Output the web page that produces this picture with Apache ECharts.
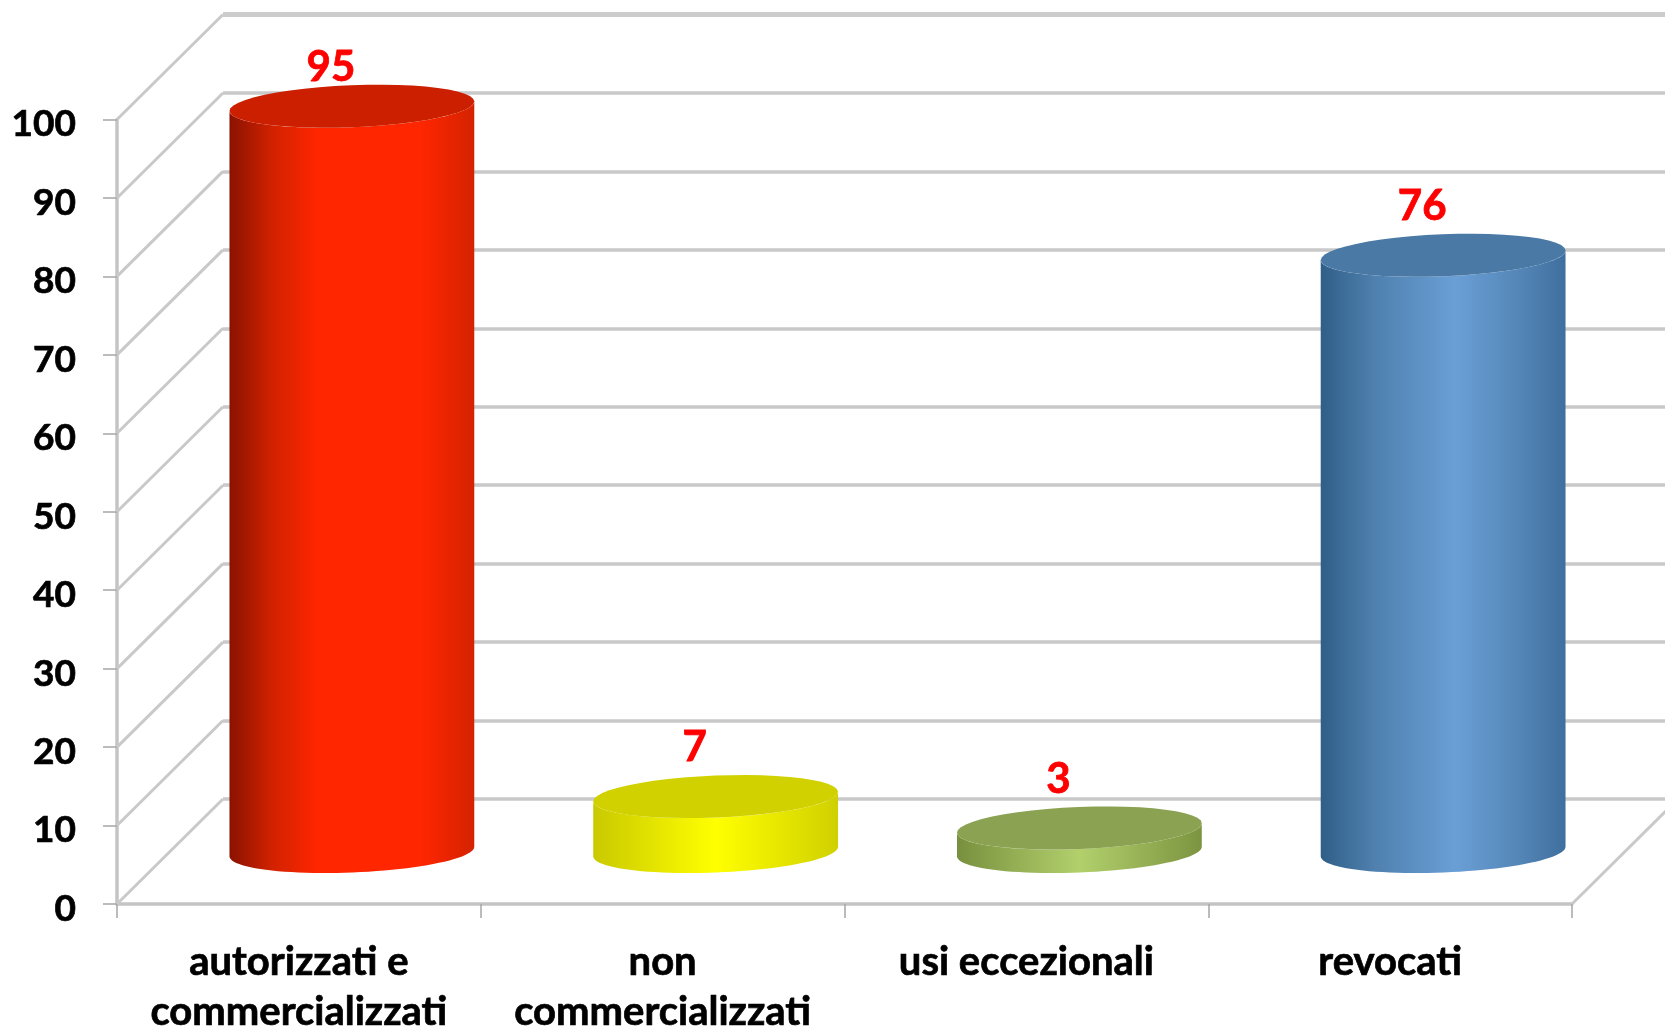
<!DOCTYPE html>
<html lang="it">

<head>
    <meta charset="UTF-8">
    <title>Farmaci</title>
    <script src="https://cdn.jsdelivr.net/npm/echarts@6/dist/echarts.min.js"></script>
    <style>
        html, body { margin: 0; background: #fff; }
        #chart { width: 1665px; height: 1029px; }
    </style>
</head>

<body>
    <div id="chart"></div>
    <script>
        const categories = ['autorizzati e\ncommercializzati', 'non\ncommercializzati', 'usi eccezionali', 'revocati']
        const values = [95, 7, 3, 76]
        const yTicks = [0, 10, 20, 30, 40, 50, 60, 70, 80, 90, 100]

        // side gradient stops and top colour for each cylinder
        const palette = [
            { side: [[0, '#8a1200'], [0.18, '#d32200'], [0.36, '#ff2600'], [0.78, '#ff2600'], [1, '#d42300']], top: '#cc1f00' },
            { side: [[0, '#c9c900'], [0.5, '#ffff00'], [1, '#d0d000']], top: '#d1d100' },
            { side: [[0, '#78903e'], [0.5, '#b2d06c'], [1, '#7c9440']], top: '#8aa252' },
            { side: [[0, '#2f5f88'], [0.22, '#4f80ae'], [0.55, '#6a9fd6'], [0.8, '#5587b8'], [1, '#3f6f9e']], top: '#4a79a6' }
        ]

        // 3D look: depth of the floor, in pixels
        const depthX = 106
        const depthY = 105
        const lineColor = '#c9c9c9'
        const rx = 122.5
        const ry = 21
        const tilt = -0.04

        function ellipsePoint(cx, cy, t) {
            const x = rx * Math.cos(t)
            const y = ry * Math.sin(t)
            return [cx + x * Math.cos(tilt) - y * Math.sin(tilt), cy + x * Math.sin(tilt) + y * Math.cos(tilt)]
        }

        function ellipseArc(cx, cy, from, to) {
            const pts = []
            for (let i = 0; i <= 48; i++) {
                pts.push(ellipsePoint(cx, cy, from + (to - from) * i / 48))
            }
            return pts
        }

        // diagonals on the left wall and floor, top line of the back wall
        function renderWall(params, api) {
            const p = api.coord([0, api.value(0)])
            const x0 = p[0] - api.size([1, 0])[0] / 2
            const children = [{
                type: 'line',
                shape: { x1: x0, y1: p[1], x2: x0 + depthX, y2: p[1] - depthY },
                style: { stroke: lineColor, lineWidth: 3 }
            }]
            if (api.value(0) === 100) {
                children.push({
                    type: 'line',
                    shape: { x1: x0 + depthX, y1: p[1] - depthY, x2: 1665, y2: p[1] - depthY },
                    style: { stroke: '#cccccc', lineWidth: 5 }
                })
            }
            if (api.value(0) === 0) {
                const right = api.coord([3, 0])[0] + api.size([1, 0])[0] / 2
                children.push({
                    type: 'line',
                    shape: { x1: right, y1: p[1], x2: right + depthX, y2: p[1] - depthY },
                    style: { stroke: lineColor, lineWidth: 3 }
                })
            }
            return { type: 'group', children: children }
        }

        function renderCylinder(params, api) {
            const i = params.dataIndex
            const top = api.coord([api.value(0), api.value(1)])
            const base = api.coord([api.value(0), 0])
            const cx = top[0] + depthX / 2
            const cyTop = top[1] - depthY / 2
            const cyBase = base[1] - depthY / 2
            const colors = palette[i]
            const side = ellipseArc(cx, cyBase, 0, Math.PI).concat(ellipseArc(cx, cyTop, Math.PI, 0))
            return {
                type: 'group',
                children: [{
                    type: 'polygon',
                    shape: { points: side },
                    style: {
                        fill: new echarts.graphic.LinearGradient(0, 0, 1, 0, colors.side.map(function (s) {
                            return { offset: s[0], color: s[1] }
                        }))
                    }
                }, {
                    type: 'polygon',
                    shape: { points: ellipseArc(cx, cyTop, 0, Math.PI * 2) },
                    style: { fill: colors.top }
                }, {
                    type: 'text',
                    x: cx - 21,
                    y: Math.max(cyTop - 49, 67),
                    style: {
                        text: String(api.value(1)),
                        fill: '#ff0000',
                        font: 'bold 42px Lato',
                        textAlign: 'center',
                        textVerticalAlign: 'middle',
                        stroke: '#ff0000',
                        lineWidth: 0.8
                    }
                }]
            }
        }

        const chart = echarts.init(document.getElementById('chart'))
        chart.setOption({
            animation: false,
            grid: [
                { left: 117, right: 93, top: 119.5, bottom: 125, outerBoundsMode: 'none' },
                { left: 223, right: -13, top: 14.5, bottom: 230, outerBoundsMode: 'none' }
            ],
            xAxis: [{
                type: 'category',
                gridIndex: 0,
                data: categories,
                axisLine: { lineStyle: { color: '#c4c4c4', width: 3.5 } },
                axisTick: { show: true, length: 14, lineStyle: { color: '#a6a6a6', width: 1.5 } },
                axisLabel: {
                    color: '#000',
                    fontFamily: 'Lato',
                    fontWeight: 'bold',
                    fontSize: 40,
                    lineHeight: 50,
                    margin: 33,
                    interval: 0,
                    textBorderColor: '#000',
                    textBorderWidth: 0.7
                }
            }, {
                type: 'category',
                gridIndex: 1,
                data: categories,
                show: false
            }],
            yAxis: [{
                type: 'value',
                gridIndex: 0,
                min: 0,
                max: 100,
                interval: 10,
                axisLine: { show: true, lineStyle: { color: '#c4c4c4', width: 3.5 } },
                axisTick: { show: true, length: 14, lineStyle: { color: '#a6a6a6', width: 1.5 } },
                splitLine: { show: false },
                axisLabel: {
                    color: '#000',
                    fontFamily: 'Lato',
                    fontWeight: 'bold',
                    fontSize: 37,
                    margin: 41,
                    verticalAlign: 'top',
                    lineHeight: 10,
                    textBorderColor: '#000',
                    textBorderWidth: 0.7
                }
            }, {
                type: 'value',
                gridIndex: 1,
                min: 0,
                max: 100,
                interval: 10,
                axisLine: { show: false },
                axisTick: { show: false },
                axisLabel: { show: false },
                splitLine: { show: true, lineStyle: { color: lineColor, width: 3.5 } }
            }],
            series: [{
                type: 'custom',
                xAxisIndex: 0,
                yAxisIndex: 0,
                data: yTicks.map(function (v) { return [v] }),
                encode: { y: 0 },
                renderItem: renderWall,
                silent: true,
                z: 1
            }, {
                type: 'custom',
                xAxisIndex: 0,
                yAxisIndex: 0,
                data: values.map(function (v, i) { return [i, v] }),
                encode: { x: 0, y: 1 },
                renderItem: renderCylinder,
                silent: true,
                z: 3
            }]
        })
    </script>
</body>

</html>
